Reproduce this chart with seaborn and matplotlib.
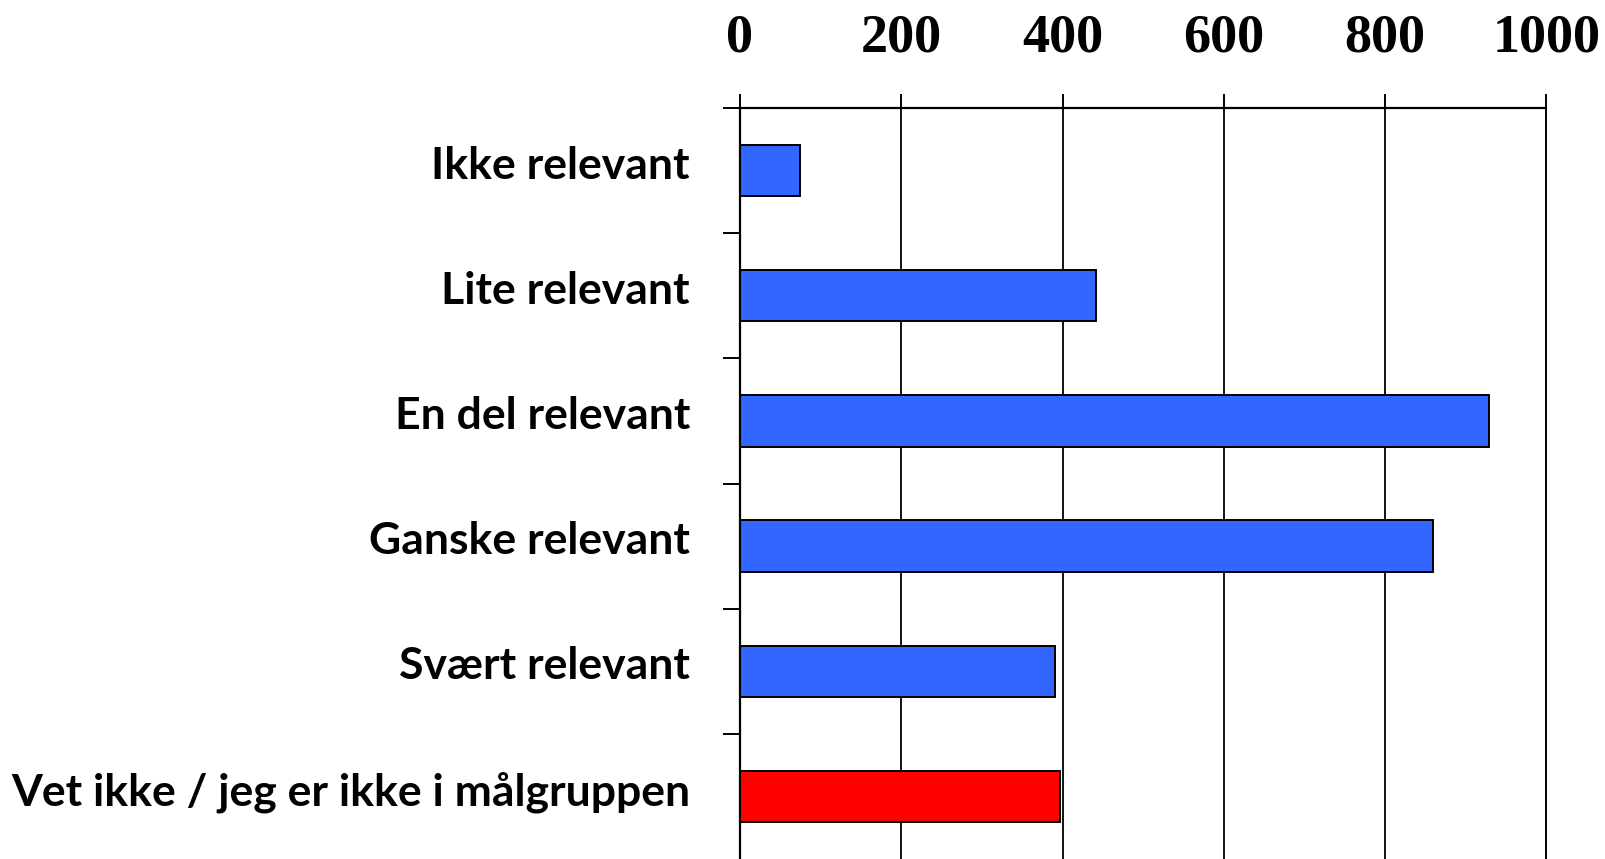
import matplotlib
matplotlib.use("Agg")
import matplotlib.pyplot as plt
import matplotlib.transforms as mtransforms
import seaborn as sns
import pandas as pd

# data
categories = [
    "Ikke relevant",
    "Lite relevant",
    "En del relevant",
    "Ganske relevant",
    "Svært relevant",
    "Vet ikke / jeg er ikke i målgruppen",
]
counts = [75, 441, 929, 859, 391, 397]
bar_colors = ["#3366FF", "#3366FF", "#3366FF", "#3366FF", "#3366FF", "#FF0000"]
x_ticks = [0, 200, 400, 600, 800, 1000]

sns.set_theme(style="white")

df = pd.DataFrame({"category": categories, "count": counts})

fig = plt.figure(figsize=(16.06, 8.59), dpi=100)
ax = fig.add_axes([740 / 1606, 0.0, 806.5 / 1606, 751 / 859])

sns.barplot(data=df, x="count", y="category", hue="category",
            palette=bar_colors, legend=False, width=0.41,
            edgecolor="black", linewidth=1.4, saturation=1, ax=ax)

ax.set_axisbelow(True)
ax.grid(axis="x", color="black", linewidth=1.3)
ax.grid(axis="y", visible=False)

ax.set_xlim(0, 1000)
ax.set_ylim(5.5, -0.5)
ax.set_xlabel("")
ax.set_ylabel("")

# x axis on top, bold serif numbers
ax.xaxis.tick_top()
ax.set_xticks(x_ticks)
ax.set_xticklabels([str(t) for t in x_ticks], fontfamily="Liberation Serif",
                   fontweight="bold", fontsize=39)
ax.tick_params(axis="x", which="major", top=True, bottom=False,
               direction="out", length=10, width=1.4, pad=22,
               colors="black", labelcolor="black")

# category labels, ticks between categories
ax.set_yticks(range(len(categories)))
ax.set_yticklabels(categories, fontfamily="Lato", fontweight="bold", fontsize=32)
ax.set_yticks([i - 0.5 for i in range(len(categories))], minor=True)
ax.tick_params(axis="y", which="major", left=False, length=0, pad=36,
               labelcolor="black")
ax.tick_params(axis="y", which="minor", left=True, direction="out",
               length=12, width=1.4, color="black")

# labels sit a little above the bar centres in the reference
shift = mtransforms.ScaledTranslation(0, 6 / 72, fig.dpi_scale_trans)
for lab in ax.get_yticklabels():
    lab.set_transform(lab.get_transform() + shift)

for side in ["top", "left"]:
    ax.spines[side].set_visible(True)
    ax.spines[side].set_color("black")
    ax.spines[side].set_linewidth(1.6)
ax.spines["right"].set_visible(True)
ax.spines["right"].set_color("black")
ax.spines["right"].set_linewidth(1.4)
ax.spines["bottom"].set_visible(False)

fig.savefig("out.png", dpi=100, facecolor="white")
